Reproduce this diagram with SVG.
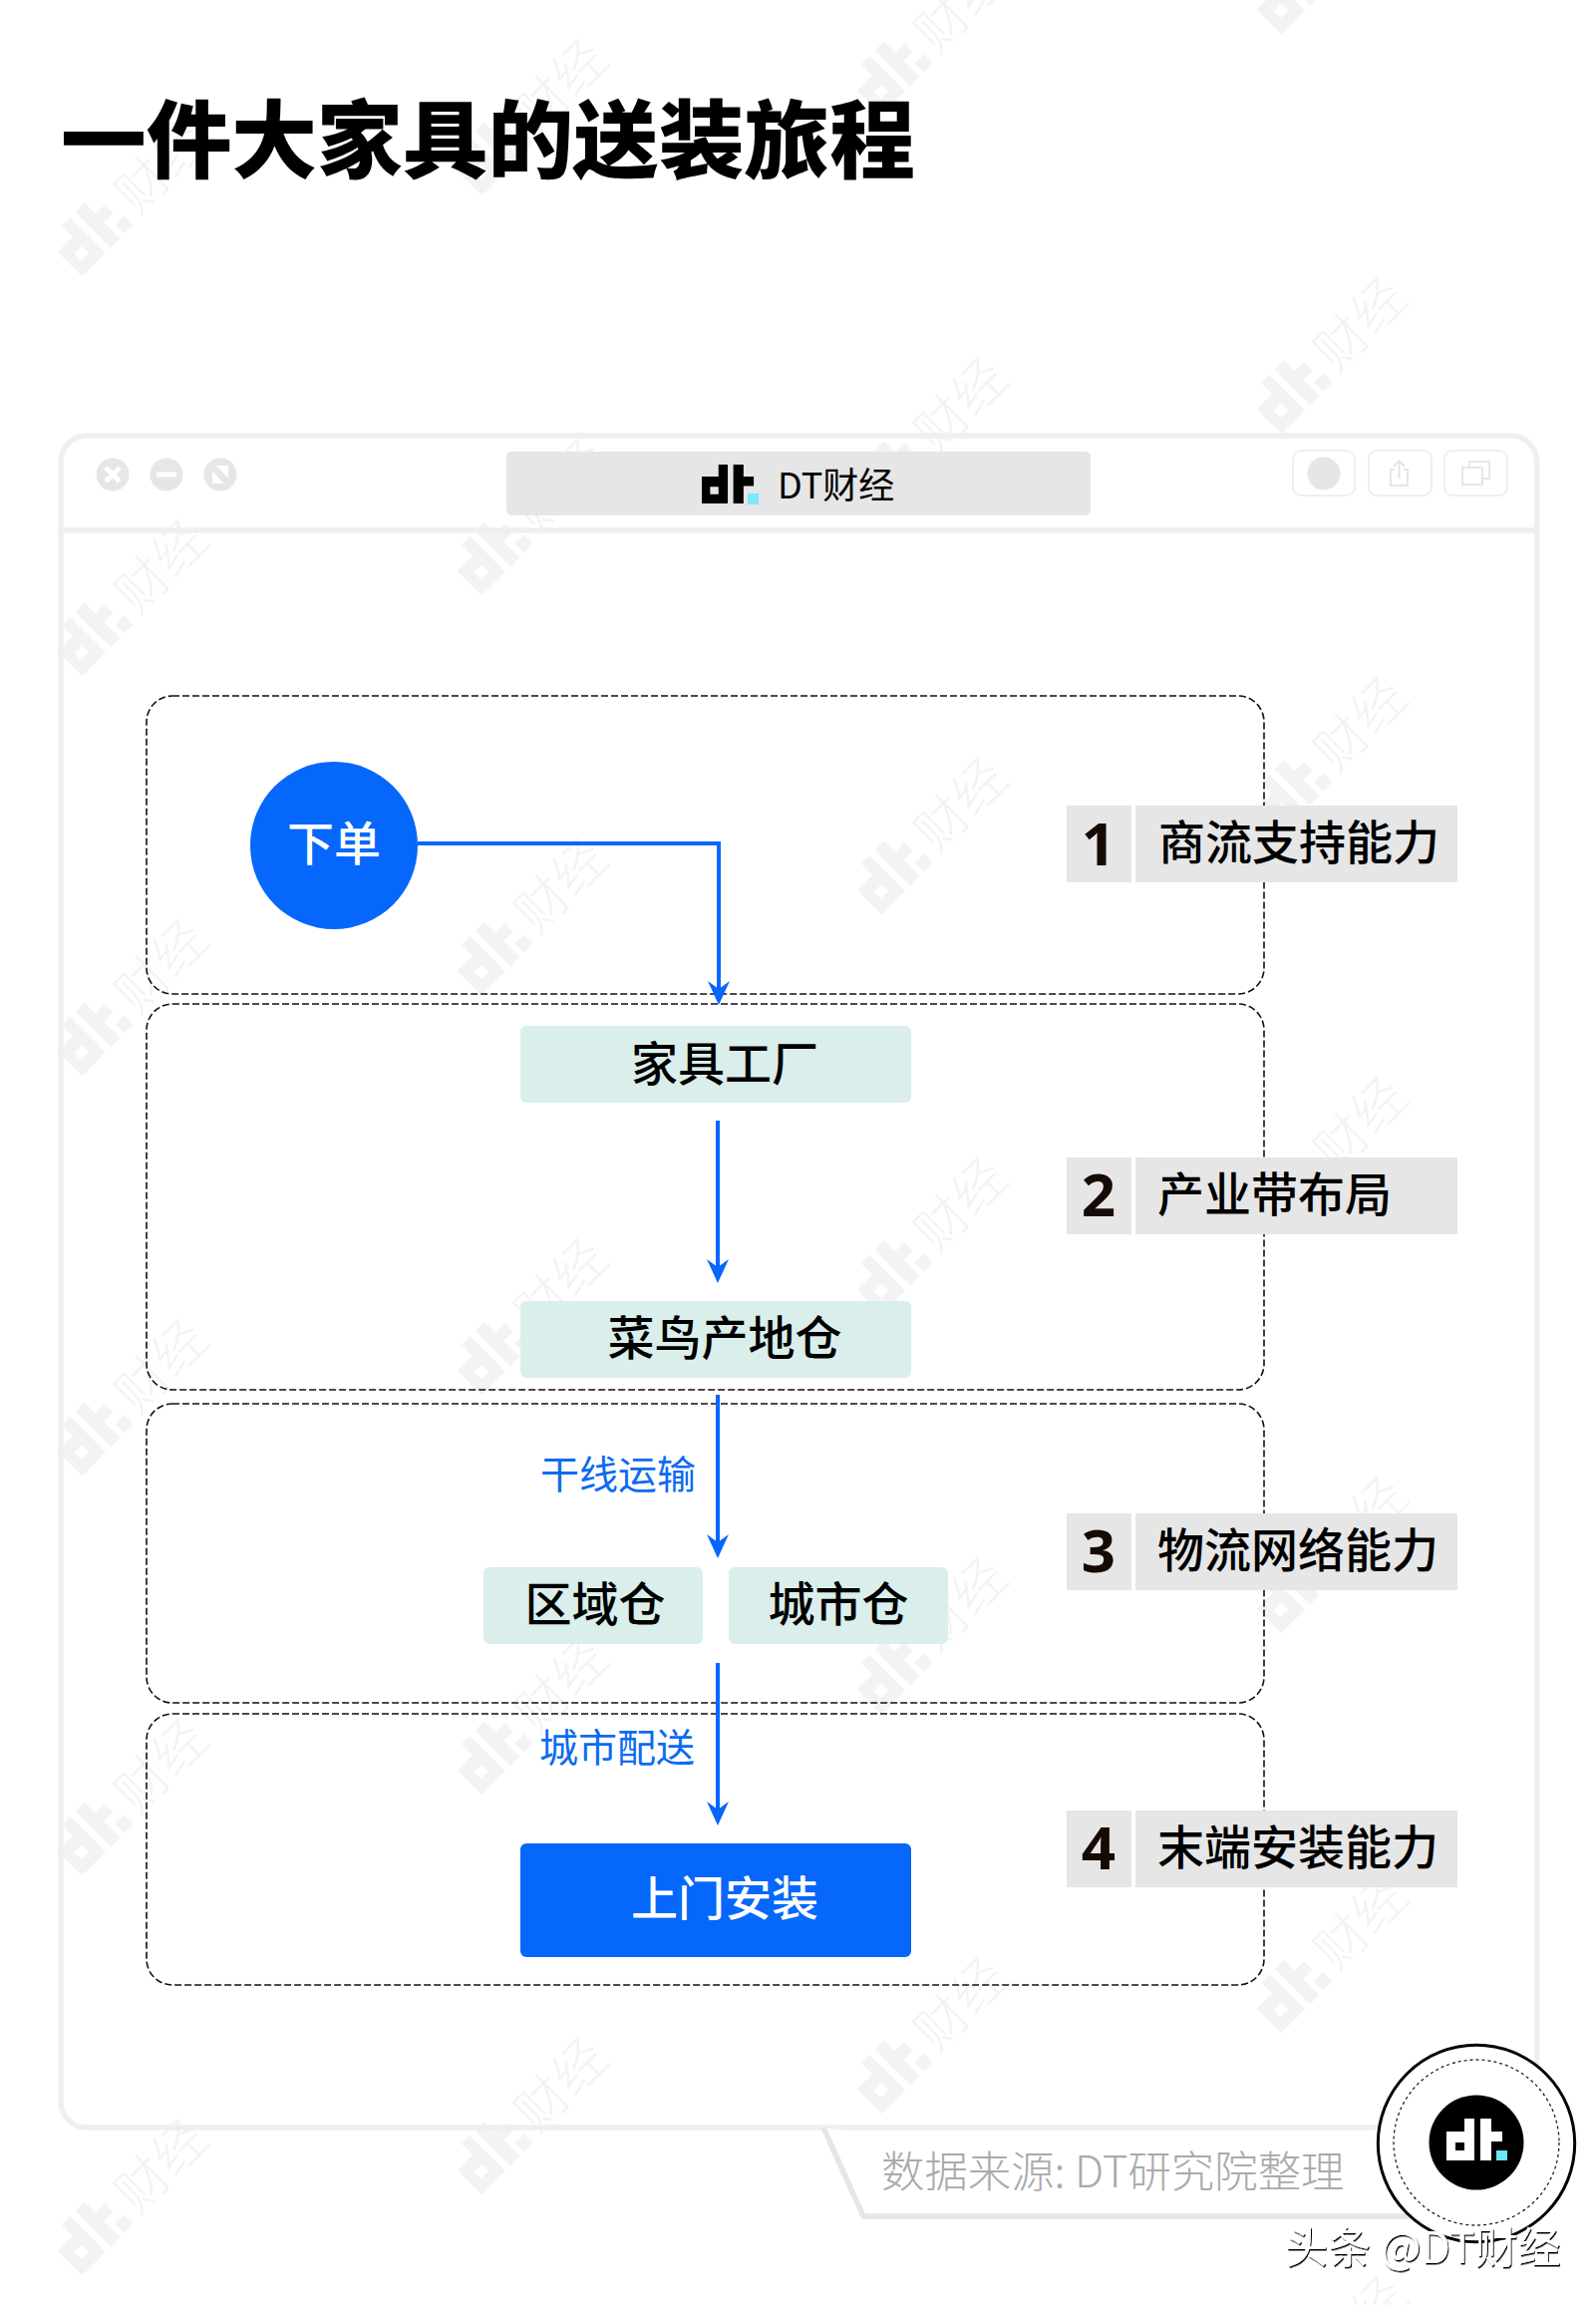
<svg xmlns="http://www.w3.org/2000/svg" width="1601" height="2312" viewBox="0 0 1601 2312">
<style>
text{font-family:"Noto Sans CJK SC","Noto Sans",sans-serif}
.band{fill:none;stroke:#111;stroke-width:1.6;stroke-dasharray:7 3}
.win{fill:none;stroke:#efefef;stroke-width:5.5}
.btn{fill:none;stroke:#efefef;stroke-width:2}
.ico{fill:none;stroke:#e6e6e6;stroke-width:2}
.gray{fill:#e6e6e6}
.node{fill:#daeeec}
.nt{font-size:47px;font-weight:500;fill:#000;text-anchor:middle}
.lt{font-size:47px;font-weight:500;fill:#000}
.num{font-size:60px;font-weight:700;fill:#160a05;text-anchor:middle;font-family:"Noto Sans",sans-serif}
.edge{font-size:39px;font-weight:400;fill:#0b6bf0}
.conn{fill:none;stroke:#0567fb;stroke-width:4}
.wm{fill:#f3f3f3}
.wt{font-size:52px;font-weight:300;fill:#f3f3f3}
</style>
<defs>
<path id="dt" fill-rule="evenodd" d="M18 0H28V42H0V13H18ZM9 24V32H18V24ZM34 0H45V13H56V23H45V42H34Z"/>
<marker id="head" markerUnits="userSpaceOnUse" markerWidth="26" markerHeight="24" refX="14" refY="12" orient="auto"><path d="M0 1L8 12L0 23L24 12Z" fill="#0567fb"/></marker>
<g id="mark"><use href="#dt" transform="translate(0,-50) scale(1.2)" class="wm"/><rect x="60" y="-13" width="13" height="13" class="wm"/><text x="82" y="-3" class="wt">财经</text></g>
<filter id="shadow" x="-5%" y="-20%" width="110%" height="140%"><feDropShadow dx="1" dy="1.5" stdDeviation="0.3" flood-color="#000"/></filter>
</defs>
<rect width="1601" height="2312" fill="#fff"/>
<g id="watermark-grid">
<use href="#mark" transform="translate(82,277) rotate(-45)"/>
<use href="#mark" transform="translate(483,196) rotate(-45)"/>
<use href="#mark" transform="translate(884,115) rotate(-45)"/>
<use href="#mark" transform="translate(1285,34) rotate(-45)"/>
<use href="#mark" transform="translate(82,678) rotate(-45)"/>
<use href="#mark" transform="translate(483,597) rotate(-45)"/>
<use href="#mark" transform="translate(884,516) rotate(-45)"/>
<use href="#mark" transform="translate(1285,435) rotate(-45)"/>
<use href="#mark" transform="translate(82,1079) rotate(-45)"/>
<use href="#mark" transform="translate(483,998) rotate(-45)"/>
<use href="#mark" transform="translate(884,917) rotate(-45)"/>
<use href="#mark" transform="translate(1285,836) rotate(-45)"/>
<use href="#mark" transform="translate(82,1480) rotate(-45)"/>
<use href="#mark" transform="translate(483,1399) rotate(-45)"/>
<use href="#mark" transform="translate(884,1318) rotate(-45)"/>
<use href="#mark" transform="translate(1285,1237) rotate(-45)"/>
<use href="#mark" transform="translate(82,1881) rotate(-45)"/>
<use href="#mark" transform="translate(483,1800) rotate(-45)"/>
<use href="#mark" transform="translate(884,1719) rotate(-45)"/>
<use href="#mark" transform="translate(1285,1638) rotate(-45)"/>
<use href="#mark" transform="translate(82,2282) rotate(-45)"/>
<use href="#mark" transform="translate(483,2201) rotate(-45)"/>
<use href="#mark" transform="translate(884,2120) rotate(-45)"/>
<use href="#mark" transform="translate(1285,2039) rotate(-45)"/>
<use href="#mark" transform="translate(1285,2440) rotate(-45)"/>
</g>
<text id="title" x="61" y="172" font-size="85.7" font-weight="900" fill="#000">一件大家具的送装旅程</text>
<g id="window">
<rect class="win" x="61" y="437" width="1480.5" height="1697" rx="26"/>
<line class="win" x1="61" y1="532" x2="1541" y2="532" stroke-width="5"/>
<path d="M826 2134L866 2223H1420" fill="#fff" stroke="#e6e6e6" stroke-width="5.5"/>
<circle class="gray" cx="113" cy="476" r="16.5"/><path d="M106 469L120 483M120 469L106 483" stroke="#fff" stroke-width="5"/>
<circle class="gray" cx="167" cy="476" r="16.5"/><rect x="157" y="473.5" width="20" height="5" fill="#fff"/>
<circle class="gray" cx="221" cy="476" r="16.5"/><path d="M217 467H229V480ZM213 472V485H225Z" fill="#fff"/>
<rect class="gray" x="508" y="453" width="586" height="64" rx="5"/>
<use href="#dt" transform="translate(704,466) scale(0.93)" fill="#000"/><rect x="750" y="495" width="11" height="11" fill="#7ce9fb"/>
<text x="780" y="500" font-size="36" fill="#000">DT财经</text>
<rect class="btn" x="1297" y="452" width="62" height="45" rx="8"/><circle class="gray" cx="1328" cy="475" r="16.5"/>
<rect class="btn" x="1373" y="452" width="63" height="45" rx="8"/><path class="ico" d="M1399 471H1395V487H1412V471H1408M1403.5 480V462M1398 468L1403.5 462L1409 468"/>
<rect class="btn" x="1449" y="452" width="63" height="45" rx="8"/><path class="ico" d="M1467 469H1487V486H1467ZM1474 469V463H1494V480H1487"/>
</g>
<g id="bands">
<rect class="band" x="147" y="698" width="1121" height="299" rx="26"/>
<rect class="band" x="147" y="1007" width="1121" height="387" rx="26"/>
<rect class="band" x="147" y="1408" width="1121" height="300" rx="26"/>
<rect class="band" x="147" y="1719" width="1121" height="272" rx="26"/>
</g>
<g id="connectors">
<path class="conn" d="M419 846H721V998" marker-end="url(#head)"/>
<path class="conn" d="M720 1124V1277" marker-end="url(#head)"/>
<path class="conn" d="M720 1399V1553" marker-end="url(#head)"/>
<path class="conn" d="M720 1668V1821" marker-end="url(#head)"/>
</g>
<g id="node-order"><circle cx="335" cy="848" r="84" fill="#0567fb"/><text class="nt" x="335" y="863" style="fill:#fff">下单</text></g>
<g id="node-factory"><rect class="node" x="522" y="1029" width="392" height="77" rx="6"/><text class="nt" x="727" y="1084">家具工厂</text></g>
<g id="node-origin"><rect class="node" x="522" y="1305" width="392" height="77" rx="6"/><text class="nt" x="727" y="1359">菜鸟产地仓</text></g>
<g id="node-regional"><rect class="node" x="485" y="1572" width="220" height="77" rx="6"/><text class="nt" x="597" y="1626">区域仓</text></g>
<g id="node-city"><rect class="node" x="731" y="1572" width="220" height="77" rx="6"/><text class="nt" x="841" y="1626">城市仓</text></g>
<g id="node-install"><rect x="522" y="1849" width="392" height="114" rx="6" fill="#0567fb"/><text class="nt" x="727" y="1921" style="fill:#fff">上门安装</text></g>
<g id="edge-labels">
<text class="edge" x="542" y="1493">干线运输</text>
<text class="edge" x="541" y="1767">城市配送</text>
</g>
<g id="label-1"><rect class="gray" x="1070" y="808" width="65" height="77"/><rect class="gray" x="1139" y="808" width="323" height="77"/><text class="num" x="1102" y="868">1</text><text class="lt" x="1162" y="862">商流支持能力</text></g>
<g id="label-2"><rect class="gray" x="1070" y="1161" width="65" height="77"/><rect class="gray" x="1139" y="1161" width="323" height="77"/><text class="num" x="1102" y="1220">2</text><text class="lt" x="1161" y="1215">产业带布局</text></g>
<g id="label-3"><rect class="gray" x="1070" y="1518" width="65" height="77"/><rect class="gray" x="1139" y="1518" width="323" height="77"/><text class="num" x="1102" y="1577">3</text><text class="lt" x="1161" y="1572">物流网络能力</text></g>
<g id="label-4"><rect class="gray" x="1070" y="1816" width="65" height="77"/><rect class="gray" x="1139" y="1816" width="323" height="77"/><text class="num" x="1102" y="1875">4</text><text class="lt" x="1161" y="1870">末端安装能力</text></g>
<text id="source" x="884" y="2194" font-size="43.4" font-weight="300" fill="#aaa">数据来源: DT研究院整理</text>
<g id="badge">
<circle cx="1481" cy="2150" r="98.7" fill="#fff" stroke="#000" stroke-width="3"/>
<circle cx="1481" cy="2149" r="83" fill="none" stroke="#222" stroke-width="1.3" stroke-dasharray="3 3"/>
<circle cx="1481" cy="2149" r="47.5" fill="#000"/>
<use href="#dt" transform="translate(1451,2125)" fill="#fff"/><rect x="1501" y="2157" width="11" height="10" fill="#66e8fb"/>
</g>
<text id="credit" x="1289" y="2270" font-size="43" font-weight="400" fill="#fff" filter="url(#shadow)">头条 @DT财经</text>
</svg>
